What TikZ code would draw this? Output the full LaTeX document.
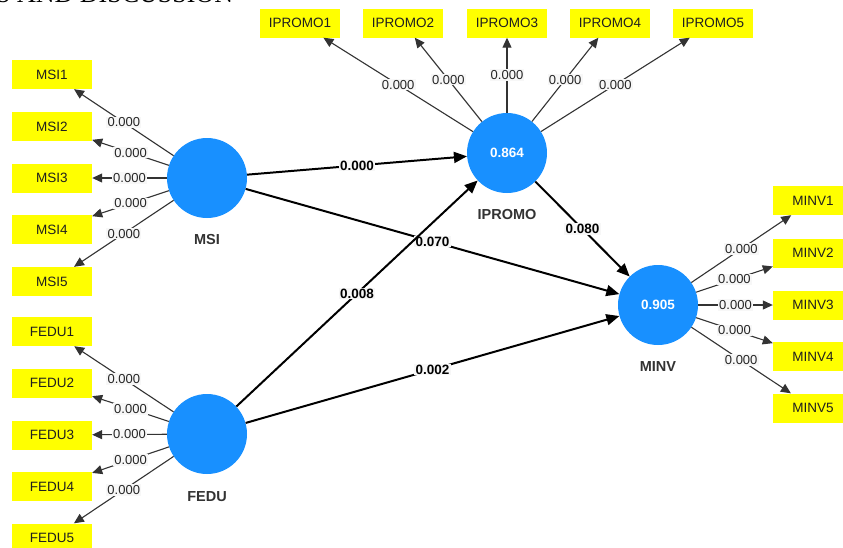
\documentclass[tikz,border=0pt]{standalone}
\usepackage{fontspec}
\setmainfont{Liberation Sans}
\newfontfamily\headfont{Liberation Serif}
\usetikzlibrary{arrows.meta}
\definecolor{indyellow}{RGB}{255,255,0}
\definecolor{latblue}{RGB}{24,144,255}
\definecolor{labbg}{RGB}{247,247,247}
\tikzset{
 ind/.style={fill=indyellow, minimum width=80pt, minimum height=29pt, inner sep=0pt, font=\fontsize{13.5}{16}\selectfont, text=black!88},
 lat/.style={circle, fill=latblue, minimum size=80pt, inner sep=0pt, text=white, font=\bfseries\fontsize{13.5}{16}\selectfont},
 latlab/.style={font=\bfseries\fontsize{14.5}{17}\selectfont, text=black!80},
 load/.style={draw=black!80, line width=1.1pt, -{Triangle[length=10pt,width=9pt]}},
 struct/.style={draw=black, line width=2pt, -{Triangle[length=13pt,width=11pt]}},
 wlab/.style={fill=labbg, inner sep=1.2pt, font=\fontsize{13}{15}\selectfont, text=black!85},
 blab/.style={fill=labbg, inner sep=1.2pt, font=\bfseries\fontsize{13.5}{16}\selectfont, text=black}
}
\begin{document}
\begin{tikzpicture}[x=1pt,y=-1pt]
\useasboundingbox (0,0) rectangle (843,547);
\clip (0,0) rectangle (843,547);
\fill[white] (0,0) rectangle (843,547);
\node[anchor=base west, inner sep=0pt, font=\headfont\fontsize{26}{30}\selectfont] (head) at (-4,2.2) {S AND DISCUSSION};
% latent variables
\node[lat] (msi) at (207,178) {};
\node[lat] (fedu) at (207,434) {};
\node[lat] (ipromo) at (507,153) {0.864};
\node[lat] (minv) at (658,305) {0.905};
\node[latlab] (msil) at (207,240) {MSI};
\node[latlab] (fedul) at (207,497) {FEDU};
\node[latlab] (ipromol) at (507,215) {IPROMO};
\node[latlab] (minvl) at (658,367) {MINV};
% indicators MSI
\node[ind] (msi1) at (52,74.5) {MSI1};
\node[ind] (msi2) at (52,126.5) {MSI2};
\node[ind] (msi3) at (52,178) {MSI3};
\node[ind] (msi4) at (52,229.5) {MSI4};
\node[ind] (msi5) at (52,281.5) {MSI5};
% indicators FEDU
\node[ind] (fedu1) at (52,331.5) {FEDU1};
\node[ind] (fedu2) at (52,383) {FEDU2};
\node[ind] (fedu3) at (52,435) {FEDU3};
\node[ind] (fedu4) at (52,486.5) {FEDU4};
\node[ind] (fedu5) at (52,538) {FEDU5};
% indicators IPROMO
\node[ind] (ip1) at (300,23) {IPROMO1};
\node[ind] (ip2) at (403,23) {IPROMO2};
\node[ind] (ip3) at (507,23) {IPROMO3};
\node[ind] (ip4) at (610,23) {IPROMO4};
\node[ind] (ip5) at (713,23) {IPROMO5};
% indicators MINV
\node[ind] (mv1) at (813,200.5) {MINV1};
\node[ind] (mv2) at (813,253) {MINV2};
\node[ind] (mv3) at (813,305) {MINV3};
\node[ind] (mv4) at (813,356.5) {MINV4};
\node[ind] (mv5) at (813,408) {MINV5};
% loadings
\foreach \t in {msi1,msi2,msi3,msi4,msi5}
  \draw[load] (msi) -- node[wlab] {0.000} (\t);
\foreach \t in {fedu1,fedu2,fedu3,fedu4,fedu5}
  \draw[load] (fedu) -- node[wlab] {0.000} (\t);
\foreach \t in {ip1,ip2,ip3,ip4,ip5}
  \draw[load] (ipromo) -- node[wlab] {0.000} (\t);
\foreach \t in {mv1,mv2,mv3,mv4,mv5}
  \draw[load] (minv) -- node[wlab] {0.000} (\t);
% structural paths
\draw[struct] (msi) -- node[blab] {0.000} (ipromo);
\draw[struct] (msi) -- node[blab] {0.070} (minv);
\draw[struct] (fedu) -- node[blab] {0.008} (ipromo);
\draw[struct] (fedu) -- node[blab] {0.002} (minv);
\draw[struct] (ipromo) -- node[blab] {0.080} (minv);
\end{tikzpicture}
\end{document}
